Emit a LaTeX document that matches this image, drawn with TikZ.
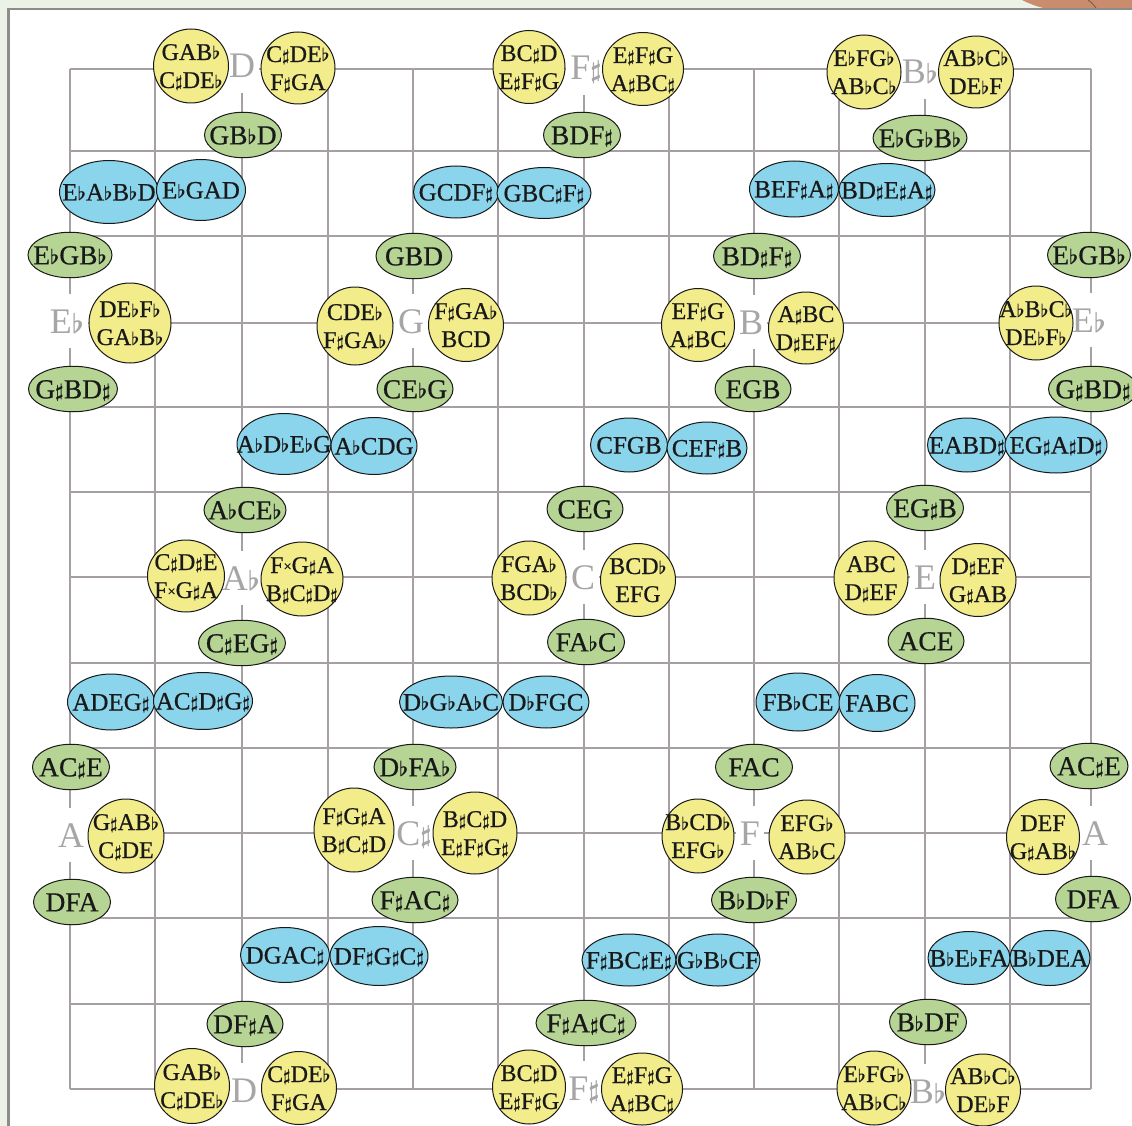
\RequirePackage{fix-cm}
\documentclass[tikz,border=0pt]{standalone}
\usepackage{fontspec}
\setmainfont{Liberation Serif}
\newfontface\nodefont{Liberation Serif}[FakeBold=0.6]
\usepackage{graphicx}
\usetikzlibrary{shapes.geometric}
\definecolor{yel}{HTML}{F2EC8A}
\definecolor{grn}{HTML}{B6D595}
\definecolor{blu}{HTML}{8AD4EC}
\definecolor{gridc}{HTML}{A69FA3}
\definecolor{keyc}{HTML}{A6A6A6}
\definecolor{framec}{HTML}{8C8C8C}
\definecolor{bgc}{HTML}{ECF2E6}
\definecolor{brownc}{HTML}{C98C6C}
\newcommand{\mfl}{\scalebox{0.75}{\boldmath$\flat$}}
\newcommand{\msh}{\raisebox{0.04em}{\scalebox{0.7}{\boldmath$\sharp$}}}
\newcommand{\mdsh}{\raisebox{0.08em}{\scalebox{0.6}{×}}}
\newcommand{\Lone}[1]{\raisebox{-0.34em}[0pt][0pt]{\makebox[0pt][c]{#1}}}
\newcommand{\Ltwo}[2]{\makebox[0pt][c]{\raisebox{0.25em}[0pt][0pt]{#1}}\makebox[0pt][c]{\raisebox{-0.917em}[0pt][0pt]{#2}}}
\tikzset{
  gline/.style={draw=gridc, line width=2.7pt},
  keylab/.style={fill=white, inner xsep=4pt, inner ysep=0pt, text height=24pt, text depth=0pt, minimum height=54pt, text=keyc, font=\fontsize{36}{40}\selectfont},
  yc/.style 2 args={ellipse, draw=black!90, line width=1pt, fill=yel, inner sep=0pt, minimum width=#1pt, minimum height=#2pt, font=\nodefont\fontsize{24}{28}\selectfont, text=black!90},
  gn/.style={ellipse, draw=black!90, line width=1pt, fill=grn, inner sep=0pt, minimum width=#1pt, minimum height=45.5pt, font=\nodefont\fontsize{27.5}{30}\selectfont, text=black!90},
  bl/.style 2 args={ellipse, draw=black!90, line width=1pt, fill=blu, inner sep=0pt, minimum width=#1pt, minimum height=#2pt, font=\nodefont\fontsize{25}{30}\selectfont, text=black!90},
}
\begin{document}
\begin{tikzpicture}[x=1pt,y=-1pt]
\useasboundingbox (0,0) rectangle (1132,1126);
% background and frame
\fill[bgc] (0,0) rectangle (1132,1126);
\fill[white] (8.5,9) rectangle (1132,1126);
\fill[brownc] (1022,0) .. controls (1030,4) and (1038,7) .. (1046,8.5) -- (1132,8.5) -- (1132,0) -- cycle;
\draw[brownc!60!black, line width=0.8pt] (1088,0) .. controls (1092,3) .. (1096,8);
\draw[framec, line width=2.5pt] (8.5,1126) -- (8.5,9) -- (1132,9);
% grid
\foreach \x in {70,155,242,328,413,498,584,669,754,839,925,1010,1091}
  \draw[gline] (\x,69) -- (\x,1089);
\foreach \y in {69,151,236,323,407,492,577,663,748,833,918,1004,1089}
  \draw[gline] (70,\y) -- (1091,\y);
% key labels
\node[keylab] (kD1) at (242,66) {D};
\node[keylab] (kFs1) at (586,68) {F\msh};
\node[keylab] (kBb1) at (920,72) {B\mfl};
\node[keylab] (kEb1) at (67,321) {E\mfl};
\node[keylab] (kG) at (411,321) {G};
\node[keylab] (kB) at (751,322) {B};
\node[keylab] (kEb2) at (1089,320) {E\mfl};
\node[keylab] (kAb) at (241,578) {A\mfl};
\node[keylab] (kC) at (583,577) {C};
\node[keylab] (kE) at (925,577) {E};
\node[keylab] (kA1) at (71,835) {A};
\node[keylab] (kCs) at (414,833) {C\msh};
\node[keylab] (kF) at (750,833) {F};
\node[keylab] (kA2) at (1095,833) {A};
\node[keylab] (kD2) at (244,1090) {D};
\node[keylab] (kFs2) at (584,1088) {F\msh};
\node[keylab] (kBb2) at (928,1091) {B\mfl};
% yellow circles
\node[yc={75}{74}] (y1) at (191,66) {\Ltwo{GAB\mfl}{C\msh DE\mfl}};
\node[yc={74}{72}] (y2) at (298,68) {\Ltwo{C\msh DE\mfl}{F\msh GA}};
\node[yc={72}{73}] (y3) at (529,67) {\Ltwo{BC\msh D}{E\msh F\msh G}};
\node[yc={81}{73}] (y4) at (643,69) {\Ltwo{E\msh F\msh G}{A\msh BC\msh}};
\node[yc={74}{74}] (y5) at (864,72) {\Ltwo{E\mfl FG\mfl}{AB\mfl C\mfl}};
\node[yc={75}{72}] (y6) at (976,72) {\Ltwo{AB\mfl C\mfl}{DE\mfl F}};
\node[yc={82}{80}] (y7) at (130,323) {\Ltwo{DE\mfl F\mfl}{GA\mfl B\mfl}};
\node[yc={76}{78}] (y8) at (355,326) {\Ltwo{CDE\mfl}{F\msh GA\mfl}};
\node[yc={75}{73}] (y9) at (466,325) {\Ltwo{F\msh GA\mfl}{BCD}};
\node[yc={73}{73}] (y10) at (698,325) {\Ltwo{EF\msh G}{A\msh BC}};
\node[yc={75}{72}] (y11) at (806,328) {\Ltwo{A\msh BC}{D\msh EF\msh}};
\node[yc={74}{74}] (y12) at (1036,323) {\Ltwo{A\mfl B\mfl C\mfl}{DE\mfl F\mfl}};
\node[yc={77}{72}] (y13) at (186,576) {\Ltwo{C\msh D\msh E}{F\mdsh G\msh A}};
\node[yc={82}{74}] (y14) at (302,579) {\Ltwo{F\mdsh G\msh A}{B\msh C\msh D\msh}};
\node[yc={74}{74}] (y15) at (529,578) {\Ltwo{FGA\mfl}{BCD\mfl}};
\node[yc={75}{73}] (y16) at (638,580) {\Ltwo{BCD\mfl}{EFG}};
\node[yc={74}{74}] (y17) at (871,578) {\Ltwo{ABC}{D\msh EF}};
\node[yc={76}{73}] (y18) at (978,580) {\Ltwo{D\msh EF}{G\msh AB}};
\node[yc={76}{74}] (y19) at (126,836) {\Ltwo{G\msh AB\mfl}{C\msh DE}};
\node[yc={80}{84}] (y20) at (354,830) {\Ltwo{F\msh G\msh A}{B\msh C\msh D}};
\node[yc={84}{82}] (y21) at (475,833) {\Ltwo{B\msh C\msh D}{E\msh F\msh G\msh}};
\node[yc={72}{74}] (y22) at (698,836) {\Ltwo{B\mfl CD\mfl}{EFG\mfl}};
\node[yc={76}{74}] (y23) at (807,837) {\Ltwo{EFG\mfl}{AB\mfl C}};
\node[yc={73}{75}] (y24) at (1043,837) {\Ltwo{DEF}{G\msh AB\mfl}};
\node[yc={75}{75}] (y25) at (192,1086) {\Ltwo{GAB\mfl}{C\msh DE\mfl}};
\node[yc={75}{73}] (y26) at (299,1088) {\Ltwo{C\msh DE\mfl}{F\msh GA}};
\node[yc={73}{74}] (y27) at (529,1087) {\Ltwo{BC\msh D}{E\msh F\msh G}};
\node[yc={81}{72}] (y28) at (642,1089) {\Ltwo{E\msh F\msh G}{A\msh BC\msh}};
\node[yc={74}{74}] (y29) at (874,1088) {\Ltwo{E\mfl FG\mfl}{AB\mfl C\mfl}};
\node[yc={75}{72}] (y30) at (983,1090) {\Ltwo{AB\mfl C\mfl}{DE\mfl F}};
% green ellipses
\node[gn=77] (g1) at (243,135) {\Lone{GB\mfl D}};
\node[gn=77] (g2) at (582,135) {\Lone{BDF\msh}};
\node[gn=94] (g3) at (920,138) {\Lone{E\mfl G\mfl B\mfl}};
\node[gn=84] (g4) at (70,255) {\Lone{E\mfl GB\mfl}};
\node[gn=76] (g5) at (414,256) {\Lone{GBD}};
\node[gn=87] (g6) at (757,256) {\Lone{BD\msh F\msh}};
\node[gn=83] (g7) at (1089,255) {\Lone{E\mfl GB\mfl}};
\node[gn=89] (g8) at (73,389) {\Lone{G\msh BD\msh}};
\node[gn=76] (g9) at (415,389) {\Lone{CE\mfl G}};
\node[gn=76] (g10) at (753,389) {\Lone{EGB}};
\node[gn=89] (g11) at (1093,389) {\Lone{G\msh BD\msh}};
\node[gn=82] (g12) at (245,510) {\Lone{A\mfl CE\mfl}};
\node[gn=76] (g13) at (585,509) {\Lone{CEG}};
\node[gn=77] (g14) at (925,508) {\Lone{EG\msh B}};
\node[gn=87] (g15) at (242,643) {\Lone{C\msh EG\msh}};
\node[gn=77] (g16) at (586,642) {\Lone{FA\mfl C}};
\node[gn=76] (g17) at (926,641) {\Lone{ACE}};
\node[gn=77] (g18) at (71,767) {\Lone{AC\msh E}};
\node[gn=82] (g19) at (415,767) {\Lone{D\mfl FA\mfl}};
\node[gn=77] (g20) at (754,767) {\Lone{FAC}};
\node[gn=78] (g21) at (1089,766) {\Lone{AC\msh E}};
\node[gn=77] (g22) at (72,902) {\Lone{DFA}};
\node[gn=86] (g23) at (415,900) {\Lone{F\msh AC\msh}};
\node[gn=85] (g24) at (754,900) {\Lone{B\mfl D\mfl F}};
\node[gn=75] (g25) at (1093,899) {\Lone{DFA}};
\node[gn=76] (g26) at (245,1024) {\Lone{DF\msh A}};
\node[gn=100] (g27) at (586,1023) {\Lone{F\msh A\msh C\msh}};
\node[gn=77] (g28) at (928,1022) {\Lone{B\mfl DF}};
% blue ellipses
\node[bl={99}{63}] (b1) at (109,192) {\Lone{E\mfl A\mfl B\mfl D}};
\node[bl={89}{61}] (b2) at (201,190) {\Lone{E\mfl GAD}};
\node[bl={85}{52}] (b3) at (456,192) {\Lone{GCDF\msh}};
\node[bl={94}{51}] (b4) at (544,193) {\Lone{GBC\msh F\msh}};
\node[bl={89}{56}] (b5) at (794,189) {\Lone{BEF\msh A\msh}};
\node[bl={96}{53}] (b6) at (887,190) {\Lone{BD\msh E\msh A\msh}};
\node[bl={94}{61}] (b7) at (284,444) {\Lone{A\mfl D\mfl E\mfl G}};
\node[bl={86}{57}] (b8) at (374,446) {\Lone{A\mfl CDG}};
\node[bl={77}{54}] (b9) at (629,445) {\Lone{CFGB}};
\node[bl={80}{52}] (b10) at (707,448) {\Lone{CEF\msh B}};
\node[bl={79}{54}] (b11) at (967,445) {\Lone{EABD\msh}};
\node[bl={102}{56}] (b12) at (1056,445) {\Lone{EG\msh A\msh D\msh}};
\node[bl={87}{56}] (b13) at (111,702) {\Lone{ADEG\msh}};
\node[bl={99}{57}] (b14) at (203,701) {\Lone{AC\msh D\msh G\msh}};
\node[bl={103}{52}] (b15) at (451,702) {\Lone{D\mfl G\mfl A\mfl C}};
\node[bl={86}{52}] (b16) at (546,702) {\Lone{D\mfl FGC}};
\node[bl={84}{58}] (b17) at (798,702) {\Lone{FB\mfl CE}};
\node[bl={76}{57}] (b18) at (877,703) {\Lone{FABC}};
\node[bl={89}{55}] (b19) at (285,955) {\Lone{DGAC\msh}};
\node[bl={98}{59}] (b20) at (379,956) {\Lone{DF\msh G\msh C\msh}};
\node[bl={94}{52}] (b21) at (629,960) {\Lone{F\msh BC\msh E\msh}};
\node[bl={84}{52}] (b22) at (718,960) {\Lone{G\mfl B\mfl CF}};
\node[bl={82}{53}] (b23) at (969,958) {\Lone{B\mfl E\mfl FA}};
\node[bl={80}{55}] (b24) at (1050,958) {\Lone{B\mfl DEA}};
\end{tikzpicture}
\end{document}
